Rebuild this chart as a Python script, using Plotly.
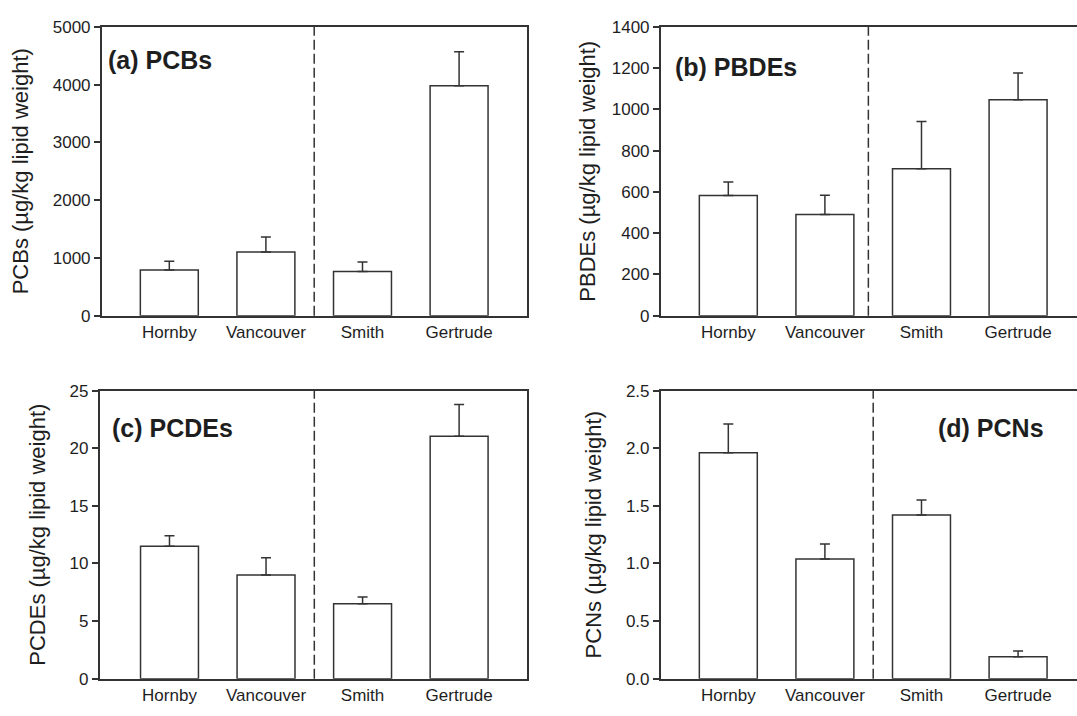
import plotly.graph_objects as go

sites = ["Hornby", "Vancouver", "Smith", "Gertrude"]

pcb_mean = [790, 1100, 765, 3980]
pcb_err = [150, 260, 165, 590]

pbde_mean = [582, 490, 712, 1047]
pbde_err = [66, 93, 229, 129]

pcde_mean = [11.5, 9.0, 6.5, 21.05]
pcde_err = [0.9, 1.5, 0.6, 2.75]

pcn_mean = [1.96, 1.04, 1.42, 0.19]
pcn_err = [0.25, 0.13, 0.13, 0.05]

panels = [
    dict(mean=pcb_mean, err=pcb_err, label="(a) PCBs", ytitle="PCBs (µg/kg lipid weight)",
         yrange=[0, 5000], dtick=1000, fmt="d", divider=1.5),
    dict(mean=pbde_mean, err=pbde_err, label="(b) PBDEs", ytitle="PBDEs (µg/kg lipid weight)",
         yrange=[0, 1400], dtick=200, fmt="d", divider=1.45),
    dict(mean=pcde_mean, err=pcde_err, label="(c) PCDEs", ytitle="PCDEs (µg/kg lipid weight)",
         yrange=[0, 25], dtick=5, fmt="d", divider=1.5),
    dict(mean=pcn_mean, err=pcn_err, label="(d) PCNs", ytitle="PCNs (µg/kg lipid weight)",
         yrange=[0, 2.5], dtick=0.5, fmt=".1f", divider=1.5),
]

W, H = 1077, 716
LINE = "#333333"
TEXT = "#1e1e1e"
FONT = "Liberation Sans, Arial, Helvetica, sans-serif"

# pixel layout of plot areas
boxes = [
    dict(x0=101.7, x1=526.7, y0=18.3, y1=315.0, xr=[-0.70, 3.70], mirror_y=True),
    dict(x0=660.7, x1=1077.0, y0=18.3, y1=315.0, xr=[-0.70, 3.61], mirror_y=False),
    dict(x0=99.5, x1=526.7, y0=392.0, y1=688.0, xr=[-0.725, 3.70], mirror_y=True),
    dict(x0=660.7, x1=1077.0, y0=392.0, y1=688.0, xr=[-0.70, 3.61], mirror_y=False),
]
# annotation label positions (pixels, left edge / vertical centre)
label_pos = [(106, 52), (673, 60), (110, 430), (936, 430)]
title_standoff = [18, 10, 18, 18]

fig = go.Figure()
xcat = list(range(len(sites)))

for i, (p, b) in enumerate(zip(panels, boxes)):
    n = i + 1
    xa = "x" if n == 1 else f"x{n}"
    ya = "y" if n == 1 else f"y{n}"
    fig.add_trace(go.Bar(
        x=xcat, y=p["mean"], xaxis=xa, yaxis=ya, width=0.6,
        marker=dict(color="white", line=dict(color=LINE, width=1.5)),
        error_y=dict(type="data", array=p["err"], arrayminus=[0] * len(sites),
                     symmetric=False, color=LINE, thickness=1.5, width=5),
        showlegend=False, hoverinfo="skip",
    ))
    xkey = "xaxis" if n == 1 else f"xaxis{n}"
    ykey = "yaxis" if n == 1 else f"yaxis{n}"
    fig.update_layout(**{
        xkey: dict(
            domain=[b["x0"] / W, b["x1"] / W], anchor=ya,
            range=b["xr"], tickmode="array", tickvals=xcat, ticktext=sites,
            showline=True, linecolor=LINE, linewidth=1.5, mirror=True,
            ticks="",
            showgrid=False, zeroline=False,
            tickfont=dict(family=FONT, size=17, color=TEXT),
        ),
        ykey: dict(
            domain=[1 - b["y1"] / H, 1 - b["y0"] / H], anchor=xa,
            range=p["yrange"], dtick=p["dtick"], tick0=0, tickformat=p["fmt"],
            showline=True, linecolor=LINE, linewidth=1.5, mirror=b["mirror_y"],
            ticks="outside", ticklen=6, tickwidth=1.5, tickcolor=LINE,
            showgrid=False, zeroline=False,
            tickfont=dict(family=FONT, size=17, color=TEXT),
            title=dict(text=p["ytitle"], font=dict(family=FONT, size=22, color=TEXT),
                       standoff=title_standoff[i]),
        ),
    })
    # dashed divider between the two site groups
    fig.add_shape(type="line", xref=xa, yref=f"{ya} domain",
                  x0=p["divider"], x1=p["divider"], y0=0, y1=1,
                  line=dict(color=LINE, width=1.5, dash="10px,4px"))
    lx, ly = label_pos[i]
    fig.add_annotation(text="<b>" + p["label"] + "</b>", xref="paper", yref="paper",
                       x=lx / W, y=1 - ly / H, xanchor="left", yanchor="middle",
                       showarrow=False, font=dict(family=FONT, size=25, color=TEXT))

fig.update_layout(
    width=W, height=H, margin=dict(l=0, r=0, t=0, b=0),
    paper_bgcolor="white", plot_bgcolor="white",
    bargap=0.4,
)

fig.write_html("out.html")
